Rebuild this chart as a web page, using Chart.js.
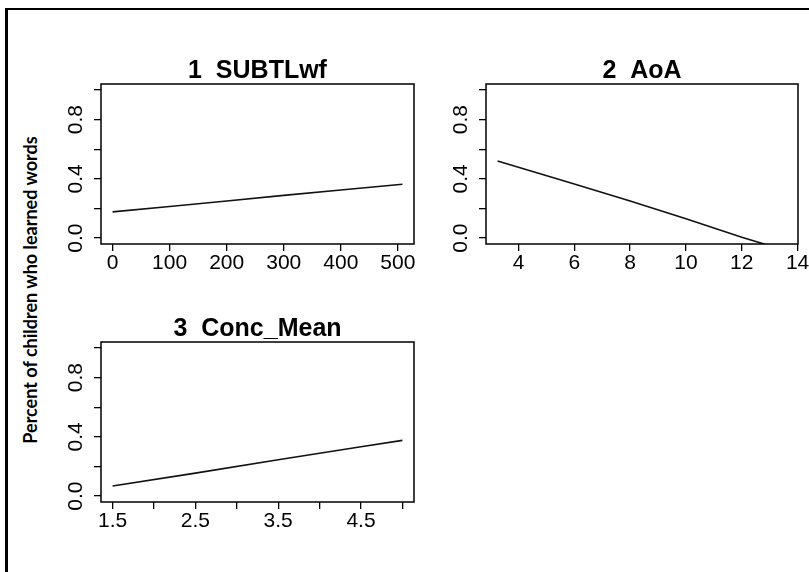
<!DOCTYPE html>
<html>
<head>
<meta charset="utf-8">
<script src="https://cdn.jsdelivr.net/npm/chart.js@4"></script>
<style>
  html, body { margin: 0; padding: 0; background: #fff; }
  #page { position: relative; width: 809px; height: 572px; overflow: hidden; background: #fff; }
  #frame { position: absolute; left: 5px; top: 8px; right: 0; bottom: 0;
           border-top: 2px solid #000; border-left: 3px solid #000; }
  canvas { position: absolute; }
  #ylab { position: absolute; left: -130px; top: 279px; width: 320px; height: 22px; line-height: 22px;
          text-align: center; transform: rotate(-90deg); font-family: Lato, 'Open Sans', sans-serif;
          font-weight: bold; font-size: 18px; color: #000; white-space: nowrap; }
</style>
</head>
<body>
<div id="page">
  <div id="frame"></div>
  <div id="ylab">Percent of children who learned words</div>
  <canvas id="p1" width="421" height="250" style="left:47px;top:40px"></canvas>
  <canvas id="p2" width="420" height="250" style="left:432px;top:40px"></canvas>
  <canvas id="p3" width="421" height="250" style="left:47px;top:298px"></canvas>
</div>
<script>
// effect curves, one per predictor
const subtlX = [0, 100, 200, 300, 400, 508];
const subtlY = [0.177, 0.213, 0.250, 0.288, 0.325, 0.363];
const aoaX = [3.25, 6, 8, 10, 12, 13.6];
const aoaY = [0.52, 0.365, 0.25, 0.13, 0.005, -0.085];
const concX = [1.5, 2.5, 3.5, 4.5, 5.0];
const concY = [0.068, 0.155, 0.245, 0.333, 0.376];

// axis ticks
const yTicks = [0, 0.2, 0.4, 0.6, 0.8, 1.0];
const yTickLabels = [0, 0.4, 0.8];
const subtlTicks = [0, 100, 200, 300, 400, 500];
const aoaTicks = [4, 6, 8, 10, 12, 14];
const concTicks = [1.5, 2, 2.5, 3, 3.5, 4, 4.5, 5];
const concTickLabels = [1.5, 2.5, 3.5, 4.5];

Chart.defaults.font.family = "'Liberation Sans', Arial, sans-serif";
Chart.defaults.color = '#000';

// R-style box around the plotting region
const boxPlugin = {
    id: 'box',
    afterDraw(chart) {
        const a = chart.chartArea;
        const ctx = chart.ctx;
        ctx.save();
        ctx.strokeStyle = '#000';
        ctx.lineWidth = 1.5;
        ctx.strokeRect(a.left, a.top, a.right - a.left, a.bottom - a.top);
        ctx.restore();
    }
};

function makePanel(id, title, xs, ys, xMin, xMax, xTicks, xLabels) {
    const pts = xs.map((x, i) => ({ x: x, y: ys[i] }));
    return new Chart(document.getElementById(id), {
        type: 'scatter',
        data: {
            datasets: [{
                data: pts,
                showLine: true,
                borderColor: '#111',
                borderWidth: 1.6,
                pointRadius: 0,
                tension: 0
            }]
        },
        options: {
            responsive: false,
            animation: false,
            devicePixelRatio: 1,
            scales: {
                x: {
                    type: 'linear',
                    min: xMin,
                    max: xMax,
                    afterBuildTicks: s => { s.ticks = xTicks.map(v => ({ value: v })); },
                    afterFit: s => { s.height = 46; },
                    border: { display: false },
                    grid: { drawOnChartArea: false, drawTicks: true, tickLength: 7, color: '#000', lineWidth: 1.3 },
                    ticks: {
                        autoSkip: false,
                        maxRotation: 0,
                        padding: 0,
                        font: { size: 21 },
                        callback: v => (xLabels.includes(v) ? String(v) : '')
                    }
                },
                y: {
                    min: -0.04,
                    max: 1.04,
                    afterBuildTicks: s => { s.ticks = yTicks.map(v => ({ value: v })); },
                    afterFit: s => { s.width = 54; },
                    border: { display: false },
                    grid: { drawOnChartArea: false, drawTicks: true, tickLength: 7, color: '#000', lineWidth: 1.3 },
                    ticks: {
                        autoSkip: false,
                        minRotation: 90,
                        maxRotation: 90,
                        crossAlign: 'center',
                        padding: 3,
                        font: { size: 21 },
                        callback: v => (yTickLabels.includes(v) ? v.toFixed(1) : '')
                    }
                },
                // empty right margin so the title stays centred over the box
                yRight: {
                    position: 'right',
                    min: 0,
                    max: 1,
                    afterFit: s => { s.width = 54; },
                    border: { display: false },
                    grid: { display: false },
                    ticks: { display: false }
                }
            },
            plugins: {
                legend: { display: false },
                tooltip: { enabled: false },
                title: {
                    display: true,
                    text: title,
                    color: '#000',
                    font: { size: 25, weight: 'bold', lineHeight: 1 },
                    padding: { top: 19, bottom: 0 }
                }
            }
        },
        plugins: [boxPlugin]
    });
}

makePanel('p1', '1  SUBTLwf', subtlX, subtlY, -20.3, 528.3, subtlTicks, subtlTicks);
makePanel('p2', '2  AoA', aoaX, aoaY, 2.836, 14.014, aoaTicks, aoaTicks);
makePanel('p3', '3  Conc_Mean', concX, concY, 1.36, 5.14, concTicks, concTickLabels);
</script>
</body>
</html>
